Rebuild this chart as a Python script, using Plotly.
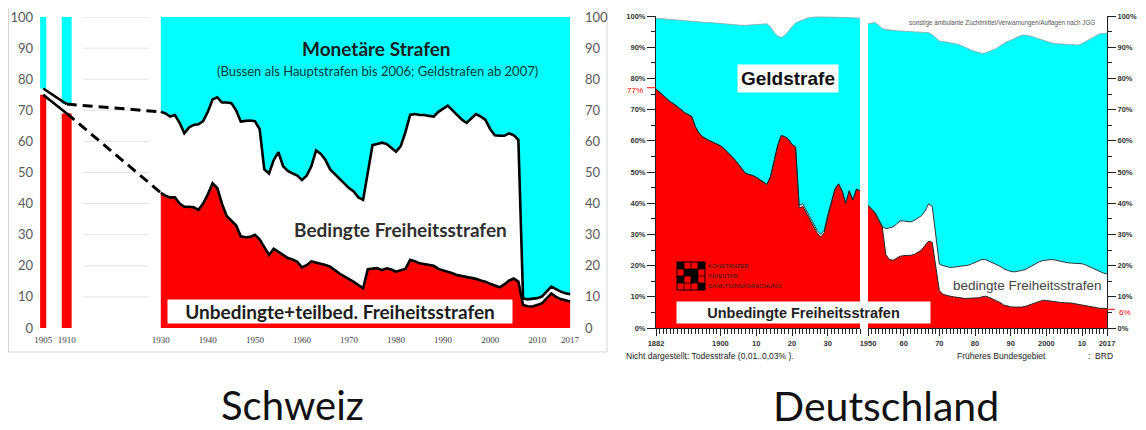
import plotly.graph_objects as go

W, H = 1146, 430          # browser window
OFF = 8                   # default page margin around the figure
FW, FH = W - OFF, H - OFF # figure size

# ---------------- Schweiz (Anteile in %) ----------------
CH_EARLY_YEARS = [1905, 1910]
CH_EARLY_UNBEDINGT = [75, 69]          # unbedingte + teilbed. (Obergrenze rot)
CH_EARLY_FREIHEIT = [77, 72]           # alle Freiheitsstrafen (Obergrenze weiss)

CH_YEARS = list(range(1930, 2018))
CH_UNBEDINGT = [
    43.5, 42.5, 42.0, 42.0, 40.0, 39.0, 39.0, 38.8, 38.0, 40.0,
    43.0, 46.5, 45.0, 40.0, 36.0, 34.5, 33.0, 29.5, 29.2, 29.3,
    30.0, 28.5, 26.0, 23.5, 25.5, 24.5, 23.5, 22.5, 22.0, 21.3,
    19.5, 20.2, 21.4, 21.0, 20.8, 20.3, 19.7, 18.5, 17.5, 16.6,
    15.8, 14.8, 13.8, 12.8, 18.9, 19.0, 19.3, 18.6, 19.2, 18.8,
    18.1, 18.6, 19.0, 21.9, 21.5, 20.8, 20.6, 20.3, 20.0, 19.0,
    18.6, 18.2, 17.6, 17.0, 16.7, 16.5, 16.3, 15.8, 15.3, 14.9,
    14.2, 13.6, 13.1, 14.0, 15.2, 15.9, 14.9, 7.4, 7.0, 6.9,
    7.3, 7.9, 9.5, 11.1, 10.0, 9.3, 8.9, 8.5,
]
CH_FREIHEIT = [
    69.5, 69.0, 68.0, 68.5, 66.0, 62.6, 64.5, 65.3, 65.5, 66.5,
    69.5, 73.5, 74.2, 72.5, 72.5, 72.3, 70.0, 66.4, 66.6, 66.7,
    66.5, 64.0, 51.0, 49.7, 54.0, 56.5, 52.0, 50.5, 49.7, 49.0,
    47.6, 49.0, 52.0, 57.1, 56.0, 54.0, 51.0, 49.5, 48.0, 46.5,
    45.0, 43.9, 42.0, 41.2, 50.0, 58.8, 59.2, 59.6, 59.2, 58.0,
    56.7, 58.5, 63.0, 68.5, 68.8, 68.5, 68.5, 68.2, 68.0, 69.5,
    70.5, 71.5, 70.0, 68.5, 67.0, 66.0, 67.5, 68.8, 68.0, 66.9,
    64.0, 62.0, 61.8, 61.8, 62.6, 62.0, 60.5, 9.5, 9.2, 9.3,
    9.6, 10.1, 11.8, 13.3, 12.5, 11.7, 11.2, 10.9,
]
CH_TOTAL = 100
CH_TICKVALS = [1905, 1910, 1930, 1940, 1950, 1960, 1970, 1980, 1990, 2000, 2010, 2017]
CH_TICKTEXT = [str(v) for v in CH_TICKVALS]

# ---------------- Deutschland (kumulierte Anteile in %) ----------------
DE_YEARS_1 = list(range(1882, 1940))
DE_UNBEDINGT_1 = [
    76.6, 75.5, 74.5, 73.5, 72.5, 71.8, 71.0, 70.0, 69.0, 68.3,
    67.8, 64.5, 62.5, 61.3, 60.6, 60.0, 59.5, 59.0, 58.4, 57.5,
    56.4, 55.3, 54.0, 52.5, 51.0, 49.6, 49.2, 48.9, 48.3, 47.5,
    46.8, 46.0, 48.5, 53.5, 58.5, 61.7, 61.3, 60.5, 58.8, 58.0,
    38.5, 39.0, 36.8, 34.5, 32.5, 30.5, 29.2, 30.5, 35.5, 40.0,
    44.5, 46.2, 44.0, 40.0, 44.0, 41.0, 44.5, 44.0,
]
DE_FREIHEIT_1 = [
    76.6, 75.5, 74.5, 73.5, 72.5, 71.8, 71.0, 70.0, 69.0, 68.3,
    67.8, 64.5, 62.5, 61.3, 60.6, 60.0, 59.5, 59.0, 58.4, 57.5,
    56.4, 55.3, 54.0, 52.5, 51.0, 49.6, 49.2, 48.9, 48.3, 47.5,
    46.8, 46.0, 48.5, 53.5, 58.5, 61.7, 61.3, 60.5, 58.8, 58.0,
    39.3, 39.8, 37.6, 35.3, 33.3, 31.3, 30.0, 31.3, 36.3, 40.8,
    44.5, 46.2, 44.0, 40.0, 44.0, 41.0, 44.5, 44.0,
]
DE_GELD_1 = [
    99.3, 99.2, 99.1, 99.0, 98.9, 98.8, 98.7, 98.5, 98.4, 98.2,
    98.1, 98.0, 97.9, 97.9, 97.9, 97.9, 97.8, 97.6, 97.5, 97.3,
    97.2, 97.1, 97.0, 97.0, 97.0, 97.0, 97.1, 97.2, 97.3, 97.4,
    97.5, 97.5, 96.5, 94.7, 93.6, 93.1, 93.8, 95.0, 96.5, 97.8,
    98.3, 98.8, 99.2, 99.5, 99.7, 99.7, 99.7, 99.7, 99.7, 99.7,
    99.7, 99.7, 99.7, 99.6, 99.5, 99.4, 99.4, 99.3,
]
DE_YEARS_2 = list(range(1950, 2018))
DE_UNBEDINGT_2 = [
    39.3, 38.0, 36.8, 34.5, 32.4, 23.5, 22.0, 21.7, 22.3, 23.0,
    23.2, 23.2, 23.3, 23.6, 24.2, 25.0, 26.5, 27.8, 27.5, 20.0,
    12.0, 10.8, 10.4, 10.2, 10.0, 9.8, 9.6, 9.5, 9.5, 9.5,
    9.5, 9.7, 10.0, 10.2, 9.8, 9.3, 8.9, 8.2, 7.4, 7.0,
    6.8, 6.7, 6.6, 6.7, 6.9, 7.3, 7.8, 8.3, 8.7, 8.9,
    8.8, 8.6, 8.4, 8.3, 8.2, 8.1, 8.1, 8.0, 7.8, 7.6,
    7.4, 7.2, 7.0, 6.7, 6.4, 6.3, 6.3, 6.2,
]
DE_FREIHEIT_2 = [
    39.3, 38.2, 37.0, 34.8, 32.6, 31.8, 32.0, 32.4, 33.3, 34.3,
    34.3, 34.2, 34.0, 34.5, 35.3, 36.0, 37.5, 39.8, 39.0, 30.0,
    20.5, 20.0, 19.6, 19.4, 19.5, 19.6, 19.7, 19.8, 20.1, 20.5,
    21.0, 21.5, 22.0, 21.9, 21.4, 20.8, 20.4, 19.8, 19.0, 18.5,
    18.1, 18.0, 18.1, 18.4, 18.7, 19.3, 20.0, 20.7, 21.2, 21.6,
    21.8, 21.9, 21.9, 21.6, 21.3, 21.1, 20.9, 20.8, 20.8, 20.7,
    20.6, 20.2, 19.7, 19.1, 18.6, 18.0, 17.6, 17.3,
]
DE_GELD_2 = [
    97.5, 97.7, 97.9, 97.0, 96.0, 95.7, 95.5, 95.4, 95.3, 95.2,
    95.2, 95.1, 95.0, 94.9, 94.8, 94.8, 94.7, 94.7, 94.0, 93.0,
    92.0, 91.8, 91.6, 91.5, 91.3, 91.0, 90.6, 90.2, 89.6, 89.0,
    88.6, 88.3, 88.0, 88.2, 88.6, 89.0, 89.6, 90.4, 91.2, 91.8,
    92.2, 92.8, 93.3, 93.8, 93.9, 93.7, 93.4, 93.0, 92.6, 92.2,
    91.8, 91.5, 91.2, 91.1, 91.0, 91.0, 91.0, 90.9, 90.8, 90.7,
    91.2, 91.8, 92.6, 93.2, 93.8, 94.3, 94.4, 94.5,
]
DE_TICKVALS_1 = [1882, 1900, 1910, 1920, 1930]
DE_TICKTEXT_1 = ["1882", "1900", "10", "20", "30"]
DE_TICKVALS_2 = [1950, 1960, 1970, 1980, 1990, 2000, 2010, 2017]
DE_TICKTEXT_2 = ["1950", "60", "70", "80", "90", "2000", "10", "2017"]
DE_MARK_START = 77
DE_MARK_END = 6

RED = "#FF0000"
CYAN = "#00FFFF"


def fx(p):
    """page pixel x -> paper fraction"""
    return (p - OFF) / FW


def fy(p):
    """page pixel y -> paper fraction"""
    return 1 - (p - OFF) / FH


fig = go.Figure()

# ---- Schweiz: frühe Balken ----
fig.add_bar(x=CH_EARLY_YEARS, y=CH_EARLY_UNBEDINGT, base=0, width=[1.3, 2.1],
            marker=dict(color=RED, line_width=0), xaxis="x", yaxis="y")
fig.add_bar(x=CH_EARLY_YEARS, y=[CH_TOTAL - v for v in CH_EARLY_FREIHEIT],
            base=CH_EARLY_FREIHEIT, width=[1.3, 2.1],
            marker=dict(color=CYAN, line_width=0), xaxis="x", yaxis="y")

# ---- Schweiz: Flächen ----
fig.add_scatter(x=CH_YEARS, y=CH_UNBEDINGT, mode="lines", fill="tozeroy",
                fillcolor=RED, line=dict(width=0), xaxis="x", yaxis="y")
fig.add_scatter(x=CH_YEARS, y=CH_FREIHEIT, mode="lines", fill="tonexty",
                fillcolor="white", line=dict(width=0), xaxis="x", yaxis="y")
fig.add_scatter(x=CH_YEARS, y=[CH_TOTAL] * len(CH_YEARS), mode="lines", fill="tonexty",
                fillcolor=CYAN, line=dict(width=0), xaxis="x", yaxis="y")
for series in (CH_FREIHEIT, CH_UNBEDINGT):
    fig.add_scatter(x=CH_YEARS, y=series, mode="lines",
                    line=dict(color="black", width=2.6), xaxis="x", yaxis="y")
for early, late in ((CH_EARLY_FREIHEIT, CH_FREIHEIT), (CH_EARLY_UNBEDINGT, CH_UNBEDINGT)):
    fig.add_scatter(x=CH_EARLY_YEARS, y=early, mode="lines",
                    line=dict(color="black", width=2.6), xaxis="x", yaxis="y")
    fig.add_scatter(x=[CH_EARLY_YEARS[-1], CH_YEARS[0]], y=[early[-1], late[0]], mode="lines",
                    line=dict(color="black", width=3, dash="10px,6px"), xaxis="x", yaxis="y")
# right-hand scale carrier
fig.add_scatter(x=CH_YEARS, y=CH_UNBEDINGT, mode="lines", opacity=0,
                line=dict(width=0), xaxis="x", yaxis="y3", hoverinfo="skip")

# ---- Deutschland ----
for xs, red, frei, geld, xa, ya in ((DE_YEARS_1, DE_UNBEDINGT_1, DE_FREIHEIT_1, DE_GELD_1, "x2", "y2"),
                                    (DE_YEARS_2, DE_UNBEDINGT_2, DE_FREIHEIT_2, DE_GELD_2, "x4", "y4")):
    fig.add_scatter(x=xs, y=red, mode="lines", fill="tozeroy", fillcolor=RED,
                    line=dict(width=0), xaxis=xa, yaxis=ya)
    fig.add_scatter(x=xs, y=frei, mode="lines", fill="tonexty", fillcolor="white",
                    line=dict(width=0), xaxis=xa, yaxis=ya)
    fig.add_scatter(x=xs, y=geld, mode="lines", fill="tonexty", fillcolor=CYAN,
                    line=dict(color="#8fa3a3", width=0.8), xaxis=xa, yaxis=ya)
    fig.add_scatter(x=xs, y=frei, mode="lines", line=dict(color="#333333", width=1),
                    xaxis=xa, yaxis=ya)
    fig.add_scatter(x=xs, y=red, mode="lines", line=dict(color="#222222", width=1),
                    xaxis=xa, yaxis=ya)

ch_yfont = dict(family="Lato", size=13, color="#595959")
de_font = dict(family="Liberation Sans", size=7.5, color="#333333", weight="bold")

ch_y_common = dict(domain=[fy(328), fy(17)], range=[0, 100], tickmode="linear", tick0=0, dtick=10,
                   showgrid=False, zeroline=False, showline=False, ticks="", tickfont=ch_yfont,
                   ticklabelstandoff=4, fixedrange=True, automargin=False)
de_y_common = dict(domain=[fy(328), fy(16)], range=[0, 100], tickmode="linear", tick0=0, dtick=10,
                   ticksuffix="%", showgrid=False, zeroline=False, showline=True,
                   linecolor="#222222", linewidth=1, ticks="outside", ticklen=8, tickcolor="#222222",
                   minor=dict(dtick=5, tick0=0, ticks="outside", ticklen=4, tickcolor="#222222"),
                   tickfont=de_font, fixedrange=True, automargin=False)
de_x_common = dict(showgrid=False, zeroline=False, showline=True, linecolor="#222222", linewidth=1,
                   ticks="outside", ticklen=7, tickcolor="#222222", tickmode="array",
                   tickfont=de_font, ticklabelstandoff=1, fixedrange=True, automargin=False)

fig.update_layout(
    template="none",
    width=FW, height=FH, autosize=False,
    margin=dict(l=0, r=0, t=0, b=0, pad=0),
    paper_bgcolor="white", plot_bgcolor="rgba(0,0,0,0)",
    showlegend=False, hovermode=False, barmode="overlay",
    xaxis=dict(domain=[fx(38), fx(580)], range=[1903.9, 2019.1], anchor="y",
               tickmode="array", tickvals=CH_TICKVALS, ticktext=CH_TICKTEXT,
               tickfont=dict(family="Liberation Serif", size=9, color="#404040"),
               showgrid=False, zeroline=False, showline=False, ticks="",
               ticklabelstandoff=5, fixedrange=True, automargin=False),
    yaxis=dict(anchor="x", side="left", **ch_y_common),
    yaxis3=dict(anchor="x", side="right", overlaying="y", **ch_y_common),
    xaxis2=dict(domain=[fx(656), fx(860)], range=[1882, 1939], anchor="y2",
                tickvals=DE_TICKVALS_1, ticktext=DE_TICKTEXT_1,
                minor=dict(tickmode="array", tickvals=DE_YEARS_1, ticks="outside",
                           ticklen=5, tickcolor="#222222"),
                **de_x_common),
    yaxis2=dict(anchor="x2", side="left", **de_y_common),
    xaxis4=dict(domain=[fx(868), fx(1107)], range=[1950, 2017], anchor="y4",
                tickvals=DE_TICKVALS_2, ticktext=DE_TICKTEXT_2,
                minor=dict(tickmode="array", tickvals=DE_YEARS_2, ticks="outside",
                           ticklen=5, tickcolor="#222222"),
                **de_x_common),
    yaxis4=dict(anchor="x4", side="right", **de_y_common),
)

shapes = []
# frame of the Swiss chart
shapes.append(dict(type="rect", xref="paper", yref="paper", x0=fx(8.5), x1=fx(607), y0=fy(352), y1=fy(3),
                   line=dict(color="#d6d6d6", width=1), layer="below"))
# light gridlines visible in the gap
for v in range(10, 101, 10):
    shapes.append(dict(type="line", xref="x", yref="y", x0=1913.5, x1=1927.5, y0=v, y1=v,
                       line=dict(color="#e3e3e3", width=1), layer="below"))
# red marker ticks on the German scales
shapes.append(dict(type="line", xref="paper", yref="y2", x0=fx(647), x1=fx(656),
                   y0=DE_MARK_START, y1=DE_MARK_START, line=dict(color=RED, width=1)))
shapes.append(dict(type="line", xref="paper", yref="y4", x0=fx(1107), x1=fx(1115),
                   y0=DE_MARK_END, y1=DE_MARK_END, line=dict(color=RED, width=1)))
# logo (Konstanzer Inventar)
lx0, ly0, cell = 677, 262, 7
shapes.append(dict(type="rect", xref="paper", yref="paper", x0=fx(lx0), x1=fx(lx0 + 4 * cell),
                   y0=fy(ly0 + 4 * cell), y1=fy(ly0), line=dict(color="black", width=1)))
for i in range(1, 4):
    shapes.append(dict(type="line", xref="paper", yref="paper", x0=fx(lx0 + i * cell), x1=fx(lx0 + i * cell),
                       y0=fy(ly0 + 4 * cell), y1=fy(ly0), line=dict(color="black", width=0.8)))
    shapes.append(dict(type="line", xref="paper", yref="paper", x0=fx(lx0), x1=fx(lx0 + 4 * cell),
                       y0=fy(ly0 + i * cell), y1=fy(ly0 + i * cell), line=dict(color="black", width=0.8)))
for (ci, cj) in ((0, 0), (1, 1), (2, 2), (3, 3), (2, 1), (0, 2), (3, 0)):
    shapes.append(dict(type="rect", xref="paper", yref="paper",
                       x0=fx(lx0 + ci * cell), x1=fx(lx0 + (ci + 1) * cell),
                       y0=fy(ly0 + (cj + 1) * cell), y1=fy(ly0 + cj * cell),
                       fillcolor="black", line=dict(width=0)))
fig.update_layout(shapes=shapes)

ann = []


def add(text, x, y, **kw):
    d = dict(text=text, x=fx(x), y=fy(y), xref="paper", yref="paper", showarrow=False,
             xanchor=kw.pop("xanchor", "center"), yanchor=kw.pop("yanchor", "middle"))
    d.update(kw)
    ann.append(d)


# Schweiz
add("<b>Monetäre Strafen</b>", 376, 49, font=dict(family="Lato", size=19, color="#1c1c1c"))
add("(Bussen als Hauptstrafen bis 2006; Geldstrafen ab 2007)", 377, 71,
    font=dict(family="Lato", size=13, color="#103838"))
add("<b>Bedingte Freiheitsstrafen</b>", 400, 229, font=dict(family="Lato", size=19, color="#2f2f2f"))
add("<b>Unbedingte+teilbed. Freiheitsstrafen</b>", 340, 311.5, width=344, height=23, borderpad=0,
    bgcolor="white", font=dict(family="Lato", size=19, color="#1c1c1c"))
add("Schweiz", 292, 405, font=dict(family="Lato", size=40, color="#111111"))

# Deutschland
add("<b>Geldstrafe</b>", 788, 78.5, width=100, height=27, borderpad=0, bgcolor="white",
    font=dict(family="Liberation Sans", size=19, color="#111111"))
add("bedingte Freiheitsstrafen", 1027, 285, font=dict(family="Liberation Sans", size=13.5, color="#444444"))
add("<b>Unbedingte Freiheitsstrafen</b>", 803.5, 312.5, width=253, height=21, borderpad=0,
    bgcolor="white", font=dict(family="Liberation Sans", size=14.5, color="#222222"))
add(f"{DE_MARK_START}%", 645, 90, xanchor="right", font=dict(family="Liberation Sans", size=8, color=RED))
add(f"{DE_MARK_END}%", 1117, 312, xanchor="left", font=dict(family="Liberation Sans", size=8, color=RED))
add("sonstige ambulante Zuchtmittel/Verwarnungen/Auflagen nach JGG", 1002, 23,
    font=dict(family="Liberation Sans", size=6.3, color="#555555"))
for i, t in enumerate(["KONSTANZER", "INVENTAR", "SANKTIONSFORSCHUNG"]):
    add(t, 706, 266 + i * 10, xanchor="left", font=dict(family="Liberation Sans", size=6, color="#222222"))
add("Nicht dargestellt: Todesstrafe (0,01..0,03% ).", 624, 356, xanchor="left",
    font=dict(family="Liberation Sans", size=8.5, color="#222222"))
add("Früheres Bundesgebiet", 955, 356, xanchor="left",
    font=dict(family="Liberation Sans", size=8.5, color="#222222"))
add(":  BRD", 1086, 356, xanchor="left", font=dict(family="Liberation Sans", size=8.5, color="#222222"))
add("Deutschland", 886, 405, font=dict(family="Lato", size=41, color="#111111"))

fig.update_layout(annotations=ann)

fig.write_html("out.html")
